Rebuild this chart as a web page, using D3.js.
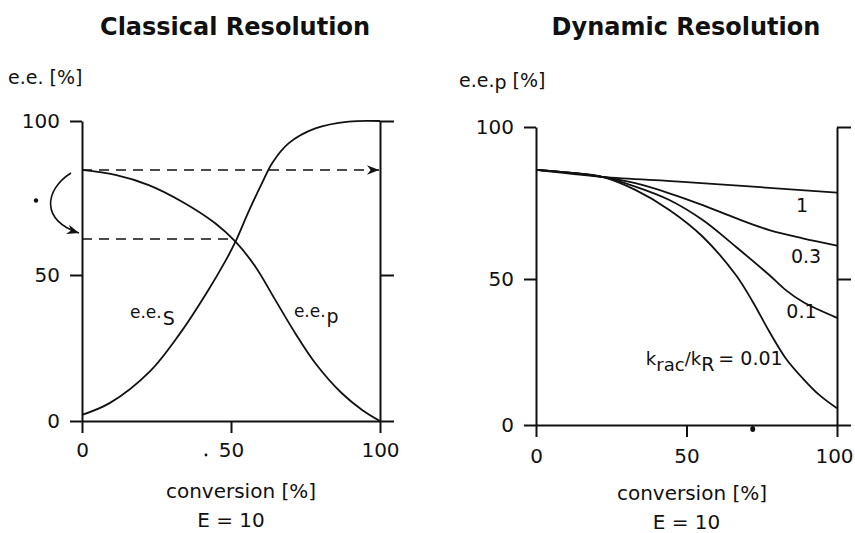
<!DOCTYPE html>
<html>
<head>
<meta charset="utf-8">
<script src="https://cdn.jsdelivr.net/npm/d3@7"></script>
<style>
  body { margin: 0; background: #fff; }
  svg { display: block; font-family: "DejaVu Sans", sans-serif; }
</style>
</head>
<body>
<svg id="chart" width="855" height="533"></svg>
<script>
// tick values (both axes, both panels)
const ticks = [0, 50, 100];

// Classical resolution, E = 10 : e.e. of product (falling) and substrate (rising)
const convP = [0, 11.2, 22.4, 33.6, 44.7, 51.5, 58.2, 64.9, 71.6, 78.3, 87.2, 94, 100];
const eeP   = [84.1, 82.5, 79.2, 73.8, 66.8, 60.8, 52.7, 41.4, 30, 19.8, 9.5, 3.8, 0];
const convS = [0, 9.4, 22.8, 32.9, 41.9, 48.1, 51.5, 55.9, 60.4, 63.8, 69.4, 78.3, 89.5, 100];
const eeS   = [2.1, 6.2, 17, 30, 44, 54.5, 60.8, 70.6, 79.8, 86.3, 92.8, 97.6, 99.8, 100];

// dashed guides: e.e.p at start, and the crossing point
const eeStart = 84.1;
const crossConv = 50.3;
const crossEE = 61.7;

// Dynamic resolution, E = 10 : e.e.p for several k_rac/k_R
const ratios = ["1", "0.3", "0.1", "0.01"];
const conv1   = [0, 22, 50, 100];
const ee1     = [85.9, 83.6, 81.9, 78.4];
const conv03  = [0, 11, 22, 33, 44.3, 55.4, 66.4, 77.5, 88.6, 100];
const ee03    = [85.9, 85, 83.6, 81.5, 78.2, 74.3, 70, 66.1, 63.4, 61];
const conv01  = [0, 11, 22, 33, 44.3, 55.4, 66.4, 77.5, 83, 88.6, 100];
const ee01    = [85.9, 85, 83.6, 80.4, 76, 69.4, 60.6, 51.3, 46.2, 42.2, 36.7];
const conv001 = [0, 11, 22, 33, 44.3, 55.4, 66.4, 72, 77.5, 83, 88.6, 94.1, 100];
const ee001   = [85.9, 85, 83.6, 79.3, 72.7, 63.9, 51.3, 42.2, 32, 22.8, 16, 10.3, 5.7];

const INK = "#111";
const svg = d3.select("#chart");

// arrow head
svg.append("defs").append("marker")
  .attr("id", "head")
  .attr("viewBox", "0 0 10 10")
  .attr("refX", 10).attr("refY", 5)
  .attr("markerWidth", 16).attr("markerHeight", 12)
  .attr("markerUnits", "userSpaceOnUse")
  .attr("orient", "auto")
  .append("path")
  .attr("d", "M0,1 L10,5 L0,9 L3,5 Z")
  .attr("fill", INK);

const zip = (xs, ys) => xs.map((v, i) => [v, ys[i]]);

/* 軸を描く */
function drawAxes(g, x, y, padX) {
  const xAxis = g.append("g")
    .attr("transform", `translate(0,${y(0)})`)
    .call(d3.axisBottom(x).tickValues(ticks).tickSize(12)
      .tickSizeOuter(0).tickPadding(padX));
  const yAxis = g.append("g")
    .attr("transform", `translate(${x(0)},0)`)
    .call(d3.axisLeft(y).tickValues(ticks).tickSize(12)
      .tickSizeOuter(0).tickPadding(10));
  const rAxis = g.append("g")
    .attr("transform", `translate(${x(100)},0)`)
    .call(d3.axisRight(y).tickValues(ticks).tickSize(14)
      .tickSizeOuter(0).tickFormat(""));

  [xAxis, yAxis, rAxis].forEach(a => {
    a.attr("font-family", null).attr("font-size", null);
    a.selectAll(".domain, line")
      .attr("stroke", INK).attr("stroke-width", 2);
    a.selectAll("text")
      .attr("fill", INK).style("font-size", "20px");
  });
  return xAxis;
}

/* 曲線を描く */
function drawCurve(g, x, y, pts) {
  g.append("path")
    .datum(pts)
    .attr("fill", "none")
    .attr("stroke", INK)
    .attr("stroke-width", 1.8)
    .attr("d", d3.line()
      .x(d => x(d[0])).y(d => y(d[1]))
      .curve(d3.curveCatmullRom.alpha(0.5)));
}

/* 軸ラベル・タイトル */
function drawTitles(g, x, title, cx, xLabelY) {
  g.append("text")
    .attr("x", cx).attr("y", 35)
    .attr("text-anchor", "middle")
    .attr("font-weight", "bold")
    .attr("font-size", 24)
    .attr("fill", INK)
    .text(title);
  g.append("text")
    .attr("x", cx + 6).attr("y", xLabelY)
    .attr("text-anchor", "middle")
    .attr("font-size", 20)
    .attr("fill", INK)
    .text("conversion [%]");
  g.append("text")
    .attr("x", x(50)).attr("y", xLabelY + 29)
    .attr("text-anchor", "middle")
    .attr("font-size", 20)
    .attr("fill", INK)
    .text("E = 10");
}

// ---------- Classical Resolution ----------
{
  const g = svg.append("g");
  const x = d3.scaleLinear().domain([0, 100]).range([82, 380]);
  const y = d3.scaleLinear().domain([0, 50, 100]).range([421, 275, 121]);

  drawAxes(g, x, y, 10);
  drawCurve(g, x, y, zip(convP, eeP));
  drawCurve(g, x, y, zip(convS, eeS));

  // dashed guides
  g.append("line")
    .attr("x1", x(0)).attr("x2", x(100) - 1)
    .attr("y1", y(eeStart)).attr("y2", y(eeStart))
    .attr("stroke", INK).attr("stroke-width", 1.6)
    .attr("stroke-dasharray", "10,7")
    .attr("marker-end", "url(#head)");
  g.append("line")
    .attr("x1", x(0)).attr("x2", x(crossConv))
    .attr("y1", y(crossEE)).attr("y2", y(crossEE))
    .attr("stroke", INK).attr("stroke-width", 1.6)
    .attr("stroke-dasharray", "10,7");

  // curved arrow left of the axis
  const x0 = x(0), yA = y(eeStart), yB = y(crossEE);
  g.append("path")
    .attr("d", `M${x0 - 11},${yA + 3} C${x0 - 38},${yA + 20} ${x0 - 41},${yB - 18} ${x0 - 3},${yB - 6}`)
    .attr("fill", "none").attr("stroke", INK).attr("stroke-width", 1.6)
    .attr("marker-end", "url(#head)");
  g.append("circle").attr("cx", x0 - 46).attr("cy", (yA + yB) / 2 - 4)
    .attr("r", 2.2).attr("fill", INK);
  // speck next to the 50 label
  g.append("circle").attr("cx", x(50) - 25).attr("cy", y(0) + 34)
    .attr("r", 1.4).attr("fill", INK);

  // y label
  g.append("text").attr("x", 8).attr("y", 84)
    .attr("font-size", 19).attr("fill", INK).text("e.e. [%]");

  // curve labels
  const tS = g.append("text").attr("x", x(16.1)).attr("y", y(35.3))
    .attr("font-size", 17).attr("fill", INK);
  tS.append("tspan").text("e.e.");
  tS.append("tspan").attr("dy", 7).attr("dx", 1).attr("font-size", 19).text("S");
  const tP = g.append("text").attr("x", x(71.1)).attr("y", y(35.6))
    .attr("font-size", 17).attr("fill", INK);
  tP.append("tspan").text("e.e.");
  tP.append("tspan").attr("dy", 6).attr("dx", 1).attr("font-size", 19).text("p");

  drawTitles(g, x, "Classical Resolution", 235, 498);
}

// ---------- Dynamic Resolution ----------
{
  const g = svg.append("g");
  const x = d3.scaleLinear().domain([0, 100]).range([536, 837]);
  const y = d3.scaleLinear().domain([0, 50, 100]).range([425, 279, 127]);

  const xAxis = drawAxes(g, x, y, 12);
  // keep the last tick label inside the page
  xAxis.selectAll(".tick text").filter(d => d === 100).attr("dx", -3);

  const series = [zip(conv1, ee1), zip(conv03, ee03), zip(conv01, ee01), zip(conv001, ee001)];
  series.forEach(s => drawCurve(g, x, y, s));

  // curve labels
  const lab = [[88.4, 72], [89.7, 55.3], [88.2, 36.6]];
  lab.forEach((p, i) => {
    g.append("text").attr("x", x(p[0])).attr("y", y(p[1]))
      .attr("text-anchor", "middle")
      .attr("font-size", 19).attr("fill", INK)
      .text(ratios[i]);
  });
  const tk = g.append("text").attr("x", x(36.5)).attr("y", y(20.5))
    .attr("font-size", 18).attr("fill", INK);
  tk.append("tspan").text("k");
  tk.append("tspan").attr("dy", 6).text("rac");
  tk.append("tspan").attr("dy", -6).text("/k");
  tk.append("tspan").attr("dy", 6).attr("font-size", 19).text("R");
  tk.append("tspan").attr("dy", -6).attr("dx", 4).attr("font-size", 19)
    .text("= " + ratios[3]);

  // speck on the axis
  g.append("ellipse").attr("cx", x(72)).attr("cy", y(0) + 4)
    .attr("rx", 2.5).attr("ry", 3).attr("fill", INK);

  // y label
  const ty = g.append("text").attr("x", 459).attr("y", 87)
    .attr("font-size", 19).attr("fill", INK);
  ty.append("tspan").text("e.e.");
  ty.append("tspan").attr("dy", 2).text("p");
  ty.append("tspan").attr("dy", -2).text(" [%]");

  drawTitles(g, x, "Dynamic Resolution", 686, 500);
}
</script>
</body>
</html>
